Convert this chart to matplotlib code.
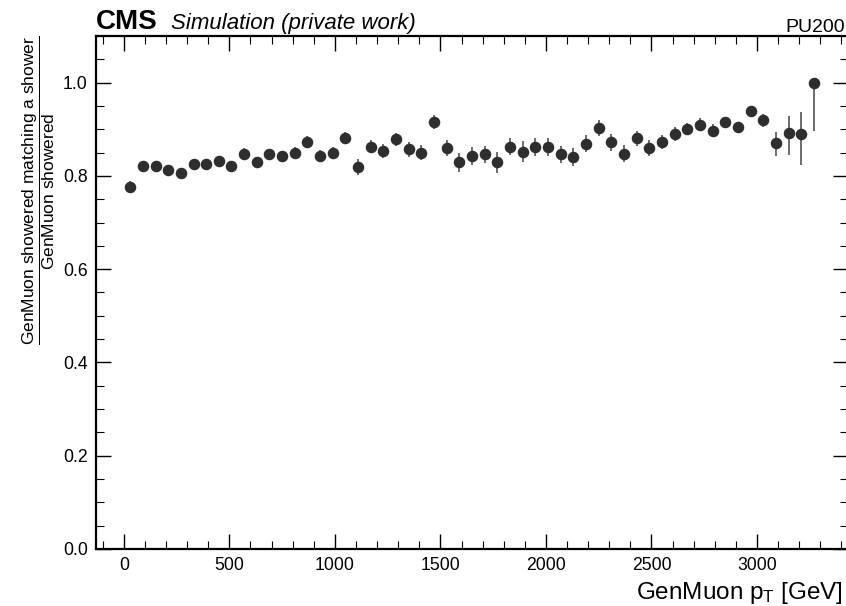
import numpy as np
import matplotlib
matplotlib.use("Agg")
from matplotlib import pyplot as plt
from matplotlib.ticker import MultipleLocator

# bin centres of GenMuon pT [GeV]
pt_centres = [30 + 60 * i for i in range(55)]

efficiency = [
    0.776, 0.821, 0.821, 0.812, 0.806, 0.825, 0.825, 0.832, 0.821, 0.848,
    0.829, 0.846, 0.842, 0.850, 0.873, 0.842, 0.850, 0.881, 0.819, 0.863,
    0.854, 0.879, 0.857, 0.850, 0.915, 0.859, 0.829, 0.842, 0.846, 0.829,
    0.863, 0.852, 0.862, 0.862, 0.846, 0.840, 0.869, 0.902, 0.872, 0.848,
    0.881, 0.859, 0.873, 0.889, 0.901, 0.910, 0.897, 0.915, 0.904, 0.940,
    0.919, 0.871, 0.892, 0.890, 1.000,
]

err_low = [
    0.013, 0.010, 0.010, 0.010, 0.010, 0.010, 0.010, 0.011, 0.011, 0.011,
    0.012, 0.012, 0.012, 0.011, 0.012, 0.013, 0.013, 0.013, 0.017, 0.014,
    0.015, 0.014, 0.016, 0.016, 0.015, 0.017, 0.021, 0.019, 0.019, 0.022,
    0.019, 0.022, 0.019, 0.019, 0.019, 0.019, 0.018, 0.017, 0.018, 0.018,
    0.016, 0.017, 0.015, 0.015, 0.013, 0.014, 0.014, 0.012, 0.012, 0.011,
    0.014, 0.029, 0.048, 0.066, 0.104,
]

err_high = [
    0.013, 0.010, 0.010, 0.010, 0.010, 0.010, 0.010, 0.011, 0.011, 0.011,
    0.012, 0.012, 0.012, 0.011, 0.012, 0.013, 0.013, 0.013, 0.017, 0.014,
    0.015, 0.014, 0.016, 0.016, 0.015, 0.017, 0.021, 0.019, 0.019, 0.022,
    0.019, 0.022, 0.019, 0.019, 0.019, 0.019, 0.018, 0.017, 0.018, 0.018,
    0.016, 0.017, 0.015, 0.015, 0.013, 0.014, 0.014, 0.012, 0.012, 0.010,
    0.013, 0.024, 0.036, 0.046, 0.000,
]


def style():
    plt.rcParams['font.family'] = ['Liberation Sans', 'DejaVu Sans']
    plt.rcParams['mathtext.fontset'] = 'custom'
    plt.rcParams['mathtext.rm'] = 'Liberation Sans'
    plt.rcParams['mathtext.it'] = 'Liberation Sans:italic'
    plt.rcParams['mathtext.bf'] = 'Liberation Sans:bold'


def main():
    style()
    fig = plt.figure(figsize=(8.46, 6.06), dpi=100)
    ax = fig.add_axes([0.1135, 0.0941, 0.889, 0.8465])

    ax.errorbar(pt_centres, efficiency, yerr=[err_low, err_high],
                fmt='o', color='#2e2e2e', ecolor='#606060',
                elinewidth=1.3, markersize=7.3, capsize=0)

    ax.set_ylim(0, 1.1)
    ax.set_xlim(-132, 3432)

    ax.xaxis.set_major_locator(MultipleLocator(500))
    ax.xaxis.set_minor_locator(MultipleLocator(100))
    ax.yaxis.set_major_locator(MultipleLocator(0.2))
    ax.yaxis.set_minor_locator(MultipleLocator(0.05))

    ax.tick_params(which='both', direction='in', top=True, right=True,
                   labelsize=12.7, pad=6)
    ax.tick_params(which='major', length=11, width=1.0)
    ax.tick_params(which='minor', length=5.5, width=0.8)
    for spine in ax.spines.values():
        spine.set_linewidth(1.6)

    ax.set_xlabel(r"GenMuon $\mathrm{p_T}$ [GeV]", fontsize=17.5,
                  x=0.993, ha='right')
    ax.set_ylabel(r"$\dfrac{\mathrm{GenMuon\ showered\ matching\ a\ shower}}"
                  r"{\mathrm{GenMuon\ showered}}$", fontsize=12.5,
                  y=1.0, ha='right')

    ax.text(0.0, 1.0136, "CMS", transform=ax.transAxes, fontsize=20,
            fontweight='bold', ha='left', va='baseline')
    ax.text(0.0997, 1.0136, "Simulation (private work)",
            transform=ax.transAxes, fontsize=16, style='italic',
            ha='left', va='baseline')
    ax.text(0.996, 1.008, "PU200", transform=ax.transAxes, fontsize=14,
            ha='right', va='baseline')

    plt.savefig("out.png", dpi=100)


if __name__ == "__main__":
    main()
